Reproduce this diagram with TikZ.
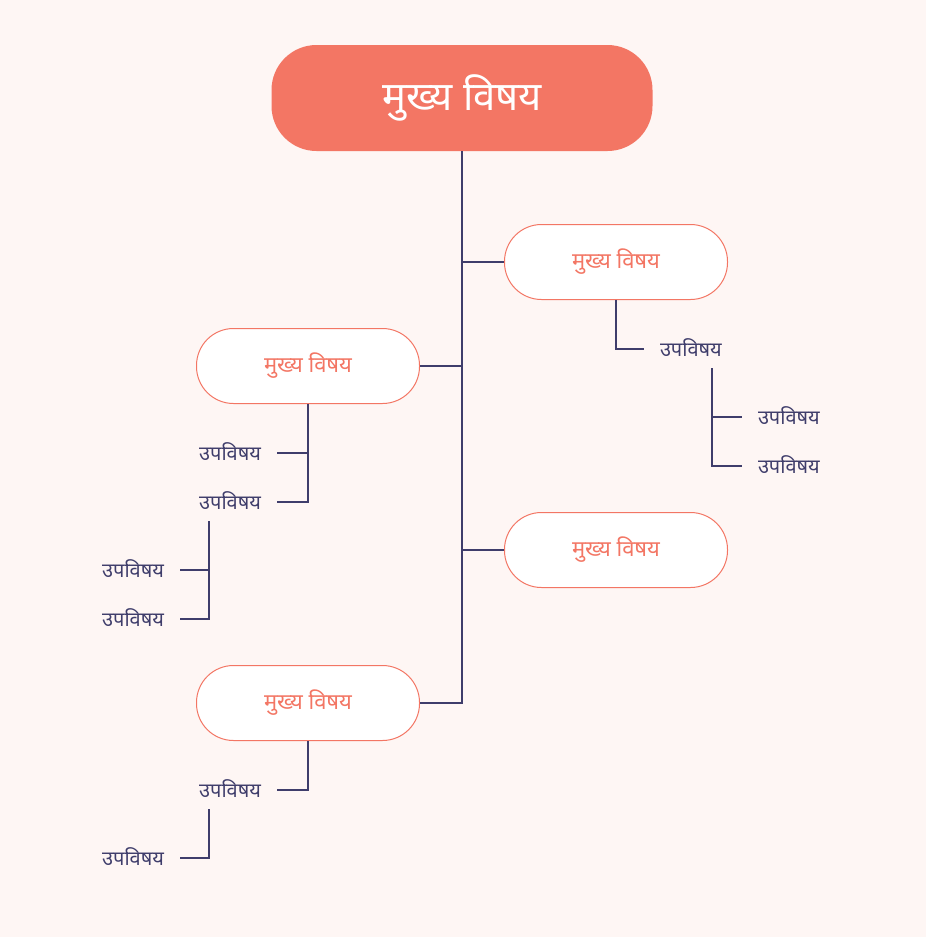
\documentclass[tikz,border=0pt]{standalone}
\usepackage{fontspec}
\newfontfamily\deva[Script=Devanagari]{Noto Sans}
\definecolor{bgc}{HTML}{FEF6F4}
\definecolor{salmon}{HTML}{F37664}
\definecolor{navy}{HTML}{3F3D6B}
\tikzset{
  mainbox/.style={draw=none, fill=salmon, rounded corners=45pt, minimum width=381pt, minimum height=106pt, text=white, font=\deva\fontsize{40}{44}\selectfont, inner sep=0},
  topicbox/.style={draw=salmon, line width=1pt, fill=white, rounded corners=37pt, minimum width=223pt, minimum height=75pt, text=salmon, font=\deva\fontsize{22}{26}\selectfont, inner sep=0},
  childtxt/.style={text=navy, font=\deva\fontsize{20}{24}\selectfont, inner sep=0, text width=104pt, text height=18pt, text depth=4pt, outer xsep=16pt, outer ysep=8pt},
  rchild/.style={childtxt, align=left, anchor=west},
  lchild/.style={childtxt, align=right, anchor=east},
  trunk/.style={draw=navy, line width=2.2pt},
  twig/.style={draw=navy, line width=1.2pt},
}
\begin{document}
\begin{tikzpicture}[x=1pt,y=-1pt]
\fill[bgc] (0,0) rectangle (926,937);
\useasboundingbox (0,0) rectangle (926,937);
\node[mainbox] (main) at (462,98) {मुख्य विषय};
\node[topicbox] (r1) at (616,262) {मुख्य विषय};
\node[topicbox] (l1) at (308,366) {मुख्य विषय};
\node[topicbox] (r2) at (616,550) {मुख्य विषय};
\node[topicbox] (l2) at (308,703) {मुख्य विषय};
% trunk
\draw[trunk] (main.south) |- (l2.east);
\draw[trunk] (main.south |- r1.west) -- (r1.west);
\draw[trunk] (main.south |- l1.east) -- (l1.east);
\draw[trunk] (main.south |- r2.west) -- (r2.west);
% right topic 1 children
\node[rchild] (r1c) at (644,349) {उपविषय};
\node[rchild] (r1g1) at (742,417) {उपविषय};
\node[rchild] (r1g2) at (742,466) {उपविषय};
\draw[twig] (r1.south) |- (r1c.west);
\draw[twig] (r1c.south) |- (r1g2.west);
\draw[twig] (r1c.south |- r1g1.west) -- (r1g1.west);
% left topic 1 children
\node[lchild] (l1c1) at (277,453) {उपविषय};
\node[lchild] (l1c2) at (277,502) {उपविषय};
\node[lchild] (l1g1) at (180,570) {उपविषय};
\node[lchild] (l1g2) at (180,619) {उपविषय};
\draw[twig] (l1.south) |- (l1c2.east);
\draw[twig] (l1.south |- l1c1.east) -- (l1c1.east);
\draw[twig] (l1c2.south) |- (l1g2.east);
\draw[twig] (l1c2.south |- l1g1.east) -- (l1g1.east);
% left topic 2 children
\node[lchild] (l2c1) at (277,790) {उपविषय};
\node[lchild] (l2g1) at (180,858) {उपविषय};
\draw[twig] (l2.south) |- (l2c1.east);
\draw[twig] (l2c1.south) |- (l2g1.east);
\end{tikzpicture}
\end{document}
